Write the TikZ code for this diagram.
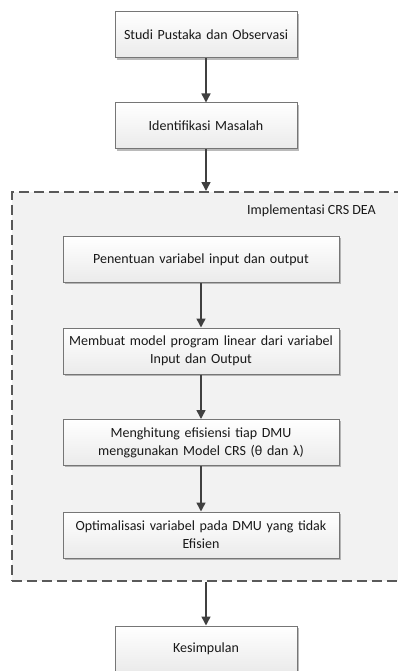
\documentclass[tikz,border=0pt]{standalone}
\usepackage{fontspec}
\setmainfont{Carlito}
\usetikzlibrary{arrows.meta,shadows}
\definecolor{boxline}{HTML}{767676}
\definecolor{arr}{HTML}{404040}
\definecolor{grpfill}{HTML}{F2F2F2}
\definecolor{grpline}{HTML}{595959}
\begin{document}
\begin{tikzpicture}[x=1pt,y=-1pt,
  stepbox/.style={draw=boxline, line width=1pt, top color=white, bottom color=black!8,
    minimum height=46pt, align=center, inner sep=2pt,
    font=\fontsize{14}{18}\selectfont, text=black!90,
    drop shadow={shadow xshift=1.8pt, shadow yshift=-1.8pt, fill=black!45, opacity=0.6}},
  topbox/.style={stepbox, minimum width=182pt, text width=176pt},
  innerbox/.style={stepbox, minimum width=276pt, text width=272pt},
  conn/.style={draw=arr, line width=1.5pt, -{Triangle[length=9pt,width=9pt]}},
  grpbox/.style={draw=grpline, fill=grpfill, line width=1.6pt, dash pattern=on 10pt off 5pt,
    minimum width=414pt, minimum height=389pt, inner sep=0pt, anchor=north west}]
\useasboundingbox (0,0) rectangle (398,671);
\clip (0,0) rectangle (398,671);
\node[grpbox] (grp) at (11,191) {};
\node[font=\fontsize{14}{17}\selectfont, text=black!90] (lbl) at (311.5,211) {Implementasi CRS DEA};
\node[topbox] (b1) at (206,35) {Studi Pustaka dan Observasi};
\node[topbox] (b2) at (206,126) {Identifikasi Masalah};
\node[innerbox] (b3) at (201,259.5) {Penentuan variabel input dan output};
\node[innerbox] (b4) at (201,351) {Membuat model program linear dari variabel\\Input dan Output};
\node[innerbox] (b5) at (201,442.5) {Menghitung efisiensi tiap DMU\\menggunakan Model CRS (θ dan λ)};
\node[innerbox] (b6) at (201,535) {Optimalisasi variabel pada DMU yang tidak\\Efisien};
\node[topbox] (b7) at (206,649) {Kesimpulan};
\draw[conn] (b1) -- (b2);
\draw[conn] (b2.south) -- (b2.south |- grp.north);
\draw[conn] (b3) -- (b4);
\draw[conn] (b4) -- (b5);
\draw[conn] (b5) -- (b6);
\draw[conn] (b7.north |- grp.south) -- (b7.north);
\end{tikzpicture}
\end{document}
